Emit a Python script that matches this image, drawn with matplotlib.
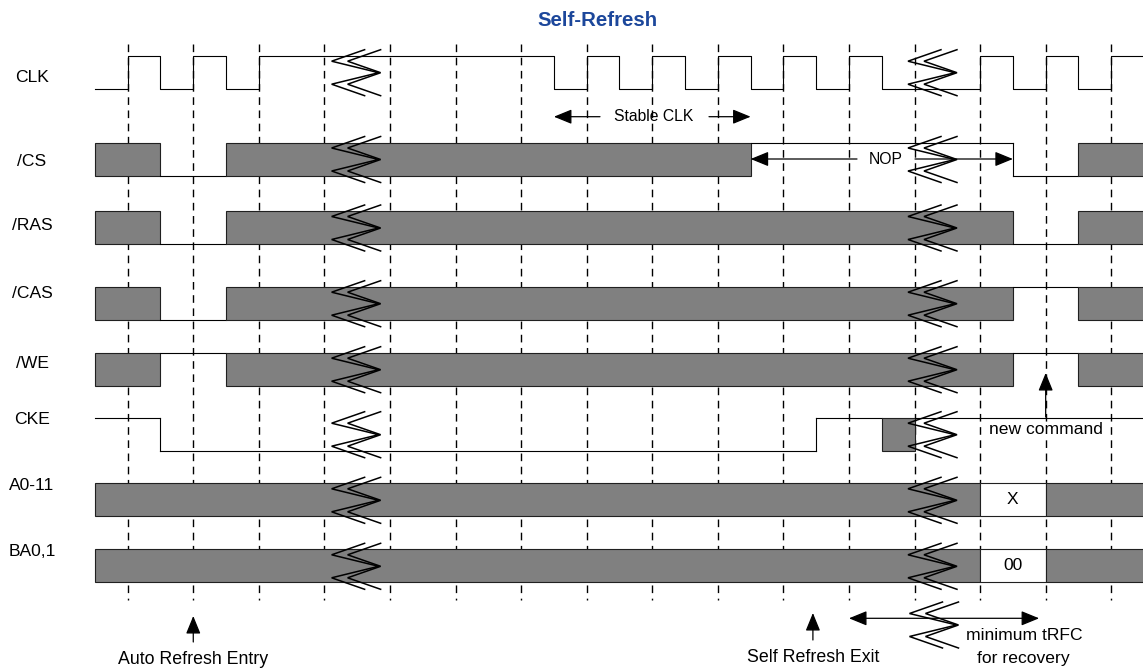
import matplotlib
matplotlib.use("Agg")
import matplotlib.pyplot as plt
from matplotlib.patches import Rectangle

# --- timing data, in clock cycles (0 = first dashed line / rising edge) ---
cycles = list(range(16))

signal_names = ["CLK", "/CS", "/RAS", "/CAS", "/WE", "CKE", "A0-11", "BA0,1"]

clk_edges = [-0.5, 0, 0.5, 1, 1.5, 2, 6.5, 7, 7.5, 8, 8.5, 9, 9.5, 10, 10.5,
             11, 11.5, 13, 13.5, 14, 14.5, 15, 15.5]
clk_levels = [0, 1, 0, 1, 0, 1, 0, 1, 0, 1, 0, 1, 0, 1, 0, 1, 0, 1, 0, 1, 0, 1]

cs_edges = [-0.5, 0.5, 1.5, 9.5, 13.5, 14.5, 15.5]
cs_states = ["X", "L", "X", "H", "L", "X"]

ras_edges = [-0.5, 0.5, 1.5, 13.5, 14.5, 15.5]
ras_states = ["X", "L", "X", "L", "X"]

cas_edges = [-0.5, 0.5, 1.5, 13.5, 14.5, 15.5]
cas_states = ["X", "L", "X", "H", "X"]

we_edges = [-0.5, 0.5, 1.5, 13.5, 14.5, 15.5]
we_states = ["X", "H", "X", "H", "X"]

cke_edges = [-0.5, 0.5, 10.5, 11.5, 12, 15.5]
cke_states = ["H", "L", "H", "X", "H"]

addr_edges = [-0.5, 13, 14, 15.5]
addr_states = ["X", "V", "X"]
addr_values = ["", "X", ""]

ba_edges = [-0.5, 13, 14, 15.5]
ba_states = ["X", "V", "X"]
ba_values = ["", "00", ""]

# where the time axis is cut (cycle position of the break symbol)
break_cycles = [3.11, 11.9]

# annotation anchors (cycles)
stable_clk_span = [6.5, 9.5]
nop_span = [9.5, 13.5]
trfc_span = [11.0, 13.9]
auto_refresh_entry = 1.0
self_refresh_exit = 10.45
new_command = 14.0

# --- layout (pixels) ---
X0 = 127.7
T = 65.57
ROW_H = 33
row_top = [55.7, 142.5, 211, 286.7, 352.7, 417.7, 483.3, 549.3]
label_y = [77, 162, 226, 293, 363, 419, 485, 552]
GRAY = "#808080"
LW = 0.8


def cx(u):
    return X0 + u * T


def zigzag(ax, xl, yc, height=46):
    q = height / 4
    ys = [yc - 2 * q, yc - q, yc, yc + q, yc + 2 * q]
    for off, mid in ((0, 47), (16, 49)):
        xs = [xl + off + 33, xl + off, xl + mid, xl + off, xl + off + 33]
        ax.plot(xs, ys, color="black", lw=1.1, zorder=6, solid_joinstyle="miter")


def draw_row(ax, top, edges, states, values=None):
    bot = top + ROW_H
    prev_level = None
    for i, st in enumerate(states):
        x1, x2 = cx(edges[i]), cx(edges[i + 1])
        if st in ("X", "V"):
            face = GRAY if st == "X" else "white"
            ax.add_patch(Rectangle((x1, top), x2 - x1, ROW_H, facecolor=face,
                                   edgecolor="#202020", lw=LW, zorder=3))
            if st == "V" and values:
                ax.text((x1 + x2) / 2, top + ROW_H / 2, values[i], ha="center",
                        va="center", fontsize=12.5, zorder=4)
            prev_level = None
        else:
            y = top if st == "H" else bot
            ax.plot([x1, x2], [y, y], color="black", lw=LW, zorder=3)
            if prev_level is not None and prev_level != st:
                ax.plot([x1, x1], [top, bot], color="black", lw=LW, zorder=3)
            prev_level = st


def arrow(ax, tail, tip, style="-|>"):
    ax.annotate("", xy=tip, xytext=tail,
                arrowprops=dict(arrowstyle=style + ",head_length=1.1,head_width=0.45",
                                color="black", lw=0.9, shrinkA=0, shrinkB=0,
                                mutation_scale=10), zorder=7)


def main():
    plt.rcParams["font.family"] = ["Liberation Sans", "DejaVu Sans"]
    fig = plt.figure(figsize=(11.43, 6.70), dpi=100)
    ax = fig.add_axes([0, 0, 1, 1])
    ax.set_xlim(0, 1143)
    ax.set_ylim(670, 0)
    ax.axis("off")

    ax.text(597, 21, "Self-Refresh", ha="center", va="center", fontsize=14.7,
            fontweight="bold", color="#1c479b")

    # dashed reference lines on each clock edge
    for c in cycles:
        ax.plot([cx(c), cx(c)], [44, 600], color="black", lw=1.0,
                dashes=(5.5, 4), zorder=1)

    # signal names
    for name, y in zip(signal_names, label_y):
        ax.text(32, y, name, ha="center", va="center", fontsize=12.6)

    # clock
    top = row_top[0]
    xs, ys = [], []
    for i, lv in enumerate(clk_levels):
        y = top if lv else top + ROW_H
        xs += [cx(clk_edges[i]), cx(clk_edges[i + 1])]
        ys += [y, y]
    ax.plot(xs, ys, color="black", lw=LW, zorder=3)

    draw_row(ax, row_top[1], cs_edges, cs_states)
    draw_row(ax, row_top[2], ras_edges, ras_states)
    draw_row(ax, row_top[3], cas_edges, cas_states)
    draw_row(ax, row_top[4], we_edges, we_states)
    draw_row(ax, row_top[5], cke_edges, cke_states)
    draw_row(ax, row_top[6], addr_edges, addr_states, addr_values)
    draw_row(ax, row_top[7], ba_edges, ba_states, ba_values)

    # break symbols
    for b in break_cycles:
        for top in row_top:
            zigzag(ax, cx(b), top + ROW_H / 2 + 0.5)
    zigzag(ax, cx(break_cycles[1]) + 1.5, 625)

    # Stable CLK
    y = 116.7
    arrow(ax, (600, y), (cx(stable_clk_span[0]), y))
    arrow(ax, (709, y), (cx(stable_clk_span[1]), y))
    ax.text(653.5, y, "Stable CLK", ha="center", va="center", fontsize=11.3)

    # NOP
    y = 159
    arrow(ax, (857, y), (cx(nop_span[0]), y))
    arrow(ax, (915, y), (cx(nop_span[1]), y))
    ax.text(886, y, "NOP", ha="center", va="center", fontsize=11.3)

    # new command
    arrow(ax, (cx(new_command), 417), (cx(new_command), 373))
    ax.text(cx(new_command), 430, "new command", ha="center", va="center",
            fontsize=12.6, zorder=8,
            bbox=dict(facecolor="white", edgecolor="none", pad=0.5))

    # bottom annotations
    arrow(ax, (cx(auto_refresh_entry), 642), (cx(auto_refresh_entry), 616))
    ax.text(cx(auto_refresh_entry), 660, "Auto Refresh Entry", ha="center",
            va="center", fontsize=12.8)

    arrow(ax, (cx(self_refresh_exit), 640), (cx(self_refresh_exit), 613))
    ax.text(cx(self_refresh_exit), 657, "Self Refresh Exit", ha="center",
            va="center", fontsize=12.8)

    arrow(ax, (cx(trfc_span[0]), 618.3), (cx(trfc_span[1]), 618.3), style="<|-|>")
    ax.text(1024, 636, "minimum tRFC", ha="center", va="center", fontsize=12.6)
    ax.text(1023, 658, "for recovery", ha="center", va="center", fontsize=12.6)

    fig.savefig("out.png", dpi=100)
    plt.close(fig)


if __name__ == "__main__":
    main()
